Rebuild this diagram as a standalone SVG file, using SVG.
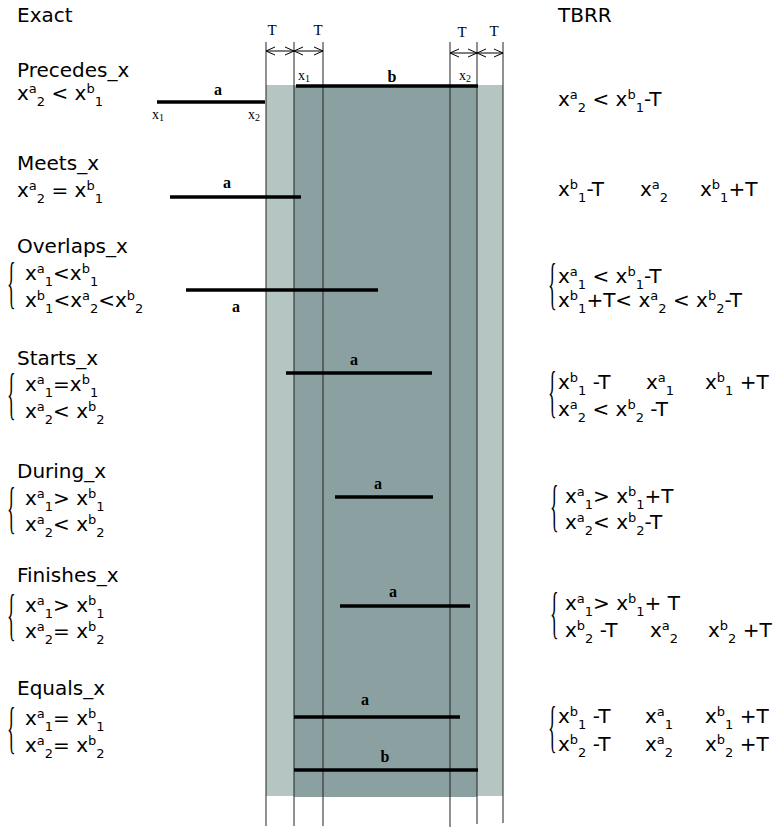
<svg xmlns="http://www.w3.org/2000/svg" width="774" height="828" viewBox="0 0 774 828">
<style>
.t{font-family:"DejaVu Sans",Verdana,sans-serif;font-size:20px;fill:#000}
.s{font-size:13px}
.br{font-family:"Liberation Serif","Times New Roman",serif;font-size:36px;fill:#000}
.lbl{font-family:"Liberation Serif","Times New Roman",serif;font-size:16px;font-weight:bold;text-anchor:middle;fill:#000}
.tl{font-family:"Liberation Serif","Times New Roman",serif;font-size:15px;text-anchor:middle;fill:#000}
.xl{font-family:"Liberation Serif","Times New Roman",serif;font-size:14px;fill:#000}
.xs{font-size:10px}
.bar{stroke:#000;stroke-width:3.5}
.v{stroke:#222;stroke-width:1}
.arr{stroke:#000;stroke-width:1;marker-start:url(#ah);marker-end:url(#ah)}
</style>
<defs>
<marker id="ah" viewBox="0 0 10 10" refX="10" refY="5" markerWidth="10" markerHeight="10" markerUnits="userSpaceOnUse" orient="auto-start-reverse">
<polyline points="1,1 10,5 1,9" fill="none" stroke="#000" stroke-width="1"/>
</marker>
</defs>
<g id="zones">
<rect x="266" y="85" width="237" height="711" fill="#b5c6c2"/>
<rect x="294" y="86" width="183" height="711" fill="#8ba0a0"/>
</g>
<g id="guides">
<line class="v" x1="266" y1="42" x2="266" y2="826"/>
<line class="v" x1="294" y1="42" x2="294" y2="826"/>
<line class="v" x1="323" y1="42" x2="323" y2="826"/>
<line class="v" x1="450" y1="42" x2="450" y2="827"/>
<line class="v" x1="477" y1="42" x2="477" y2="824"/>
<line class="v" x1="503" y1="42" x2="503" y2="823"/>
</g>
<g id="connectors">
<line class="arr" x1="266" y1="51" x2="294" y2="51"/>
<line class="arr" x1="294" y1="51" x2="323" y2="51"/>
<line class="arr" x1="450" y1="53" x2="477" y2="53"/>
<line class="arr" x1="477" y1="53" x2="503" y2="53"/>
</g>
<g id="tolerance-labels">
<text class="tl" x="272" y="35">T</text>
<text class="tl" x="318" y="35">T</text>
<text class="tl" x="462" y="37">T</text>
<text class="tl" x="494" y="36">T</text>
</g>
<g id="interval-b-top">
<line class="bar" x1="296" y1="86" x2="478" y2="86"/>
<text class="lbl" x="392" y="82">b</text>
<text class="xl" x="298" y="80">x<tspan class="xs" dy="2">1</tspan></text>
<text class="xl" x="459" y="80">x<tspan class="xs" dy="2">2</tspan></text>
</g>
<g id="headers">
<text class="t" x="17" y="22">Exact</text>
<text class="t" x="558" y="22">TBRR</text>
</g>
<g id="precedes">
<text class="t" x="17" y="77">Precedes_x</text>
<text class="t" x="17" y="100">x<tspan class="s" dy="-7">a</tspan><tspan class="s" dy="13">2</tspan><tspan dy="-6"> &lt; x</tspan><tspan class="s" dy="-7">b</tspan><tspan class="s" dy="13">1</tspan></text>
<line class="bar" x1="157" y1="102" x2="265" y2="102"/>
<text class="lbl" x="218" y="95">a</text>
<text class="xl" x="152" y="119">x<tspan class="xs" dy="2">1</tspan></text>
<text class="xl" x="248" y="119">x<tspan class="xs" dy="2">2</tspan></text>
<text class="t" x="558" y="106">x<tspan class="s" dy="-7">a</tspan><tspan class="s" dy="13">2</tspan><tspan dy="-6"> &lt; x</tspan><tspan class="s" dy="-7">b</tspan><tspan class="s" dy="13">1</tspan><tspan dy="-6">-T</tspan></text>
</g>
<g id="meets">
<text class="t" x="17" y="170">Meets_x</text>
<text class="t" x="17" y="197">x<tspan class="s" dy="-7">a</tspan><tspan class="s" dy="13">2</tspan><tspan dy="-6"> = x</tspan><tspan class="s" dy="-7">b</tspan><tspan class="s" dy="13">1</tspan></text>
<line class="bar" x1="170" y1="197" x2="301" y2="197"/>
<text class="lbl" x="227" y="188">a</text>
<text class="t" x="558" y="196">x<tspan class="s" dy="-7">b</tspan><tspan class="s" dy="13">1</tspan><tspan dy="-6">-T</tspan></text>
<text class="t" x="640" y="196">x<tspan class="s" dy="-7">a</tspan><tspan class="s" dy="13">2</tspan></text>
<text class="t" x="700" y="196">x<tspan class="s" dy="-7">b</tspan><tspan class="s" dy="13">1</tspan><tspan dy="-6">+T</tspan></text>
</g>
<g id="overlaps">
<text class="t" x="17" y="253">Overlaps_x</text>
<text class="br" transform="translate(7,302) scale(0.5,1.6)">{</text>
<text class="t" x="25" y="280">x<tspan class="s" dy="-7">a</tspan><tspan class="s" dy="13">1</tspan><tspan dy="-6">&lt;x</tspan><tspan class="s" dy="-7">b</tspan><tspan class="s" dy="13">1</tspan></text>
<text class="t" x="25" y="307">x<tspan class="s" dy="-7">b</tspan><tspan class="s" dy="13">1</tspan><tspan dy="-6">&lt;x</tspan><tspan class="s" dy="-7">a</tspan><tspan class="s" dy="13">2</tspan><tspan dy="-6">&lt;x</tspan><tspan class="s" dy="-7">b</tspan><tspan class="s" dy="13">2</tspan></text>
<line class="bar" x1="186" y1="290" x2="378" y2="290"/>
<text class="lbl" x="236" y="312">a</text>
<text class="br" transform="translate(548,303) scale(0.5,1.6)">{</text>
<text class="t" x="558" y="283">x<tspan class="s" dy="-7">a</tspan><tspan class="s" dy="13">1</tspan><tspan dy="-6"> &lt; x</tspan><tspan class="s" dy="-7">b</tspan><tspan class="s" dy="13">1</tspan><tspan dy="-6">-T</tspan></text>
<text class="t" x="558" y="307">x<tspan class="s" dy="-7">b</tspan><tspan class="s" dy="13">1</tspan><tspan dy="-6">+T&lt; x</tspan><tspan class="s" dy="-7">a</tspan><tspan class="s" dy="13">2</tspan><tspan dy="-6"> &lt; x</tspan><tspan class="s" dy="-7">b</tspan><tspan class="s" dy="13">2</tspan><tspan dy="-6">-T</tspan></text>
</g>
<g id="starts">
<text class="t" x="17" y="365">Starts_x</text>
<text class="br" transform="translate(7,413) scale(0.5,1.6)">{</text>
<text class="t" x="25" y="391">x<tspan class="s" dy="-7">a</tspan><tspan class="s" dy="13">1</tspan><tspan dy="-6">=x</tspan><tspan class="s" dy="-7">b</tspan><tspan class="s" dy="13">1</tspan></text>
<text class="t" x="25" y="418">x<tspan class="s" dy="-7">a</tspan><tspan class="s" dy="13">2</tspan><tspan dy="-6">&lt; x</tspan><tspan class="s" dy="-7">b</tspan><tspan class="s" dy="13">2</tspan></text>
<line class="bar" x1="286" y1="373" x2="432" y2="373"/>
<text class="lbl" x="354" y="365">a</text>
<text class="br" transform="translate(548,411) scale(0.5,1.6)">{</text>
<text class="t" x="558" y="389">x<tspan class="s" dy="-7">b</tspan><tspan class="s" dy="13">1</tspan><tspan dy="-6"> -T</tspan></text>
<text class="t" x="646" y="389">x<tspan class="s" dy="-7">a</tspan><tspan class="s" dy="13">1</tspan></text>
<text class="t" x="705" y="389">x<tspan class="s" dy="-7">b</tspan><tspan class="s" dy="13">1</tspan><tspan dy="-6"> +T</tspan></text>
<text class="t" x="558" y="416">x<tspan class="s" dy="-7">a</tspan><tspan class="s" dy="13">2</tspan><tspan dy="-6"> &lt; x</tspan><tspan class="s" dy="-7">b</tspan><tspan class="s" dy="13">2</tspan><tspan dy="-6"> -T</tspan></text>
</g>
<g id="during">
<text class="t" x="17" y="478">During_x</text>
<text class="br" transform="translate(7,527) scale(0.5,1.6)">{</text>
<text class="t" x="25" y="505">x<tspan class="s" dy="-7">a</tspan><tspan class="s" dy="13">1</tspan><tspan dy="-6">&gt; x</tspan><tspan class="s" dy="-7">b</tspan><tspan class="s" dy="13">1</tspan></text>
<text class="t" x="25" y="531">x<tspan class="s" dy="-7">a</tspan><tspan class="s" dy="13">2</tspan><tspan dy="-6">&lt; x</tspan><tspan class="s" dy="-7">b</tspan><tspan class="s" dy="13">2</tspan></text>
<line class="bar" x1="335" y1="497" x2="433" y2="497"/>
<text class="lbl" x="378" y="489">a</text>
<text class="br" transform="translate(550,525) scale(0.5,1.6)">{</text>
<text class="t" x="565" y="503">x<tspan class="s" dy="-7">a</tspan><tspan class="s" dy="13">1</tspan><tspan dy="-6">&gt; x</tspan><tspan class="s" dy="-7">b</tspan><tspan class="s" dy="13">1</tspan><tspan dy="-6">+T</tspan></text>
<text class="t" x="565" y="529">x<tspan class="s" dy="-7">a</tspan><tspan class="s" dy="13">2</tspan><tspan dy="-6">&lt; x</tspan><tspan class="s" dy="-7">b</tspan><tspan class="s" dy="13">2</tspan><tspan dy="-6">-T</tspan></text>
</g>
<g id="finishes">
<text class="t" x="17" y="582">Finishes_x</text>
<text class="br" transform="translate(7,634) scale(0.5,1.6)">{</text>
<text class="t" x="25" y="612">x<tspan class="s" dy="-7">a</tspan><tspan class="s" dy="13">1</tspan><tspan dy="-6">&gt; x</tspan><tspan class="s" dy="-7">b</tspan><tspan class="s" dy="13">1</tspan></text>
<text class="t" x="25" y="638">x<tspan class="s" dy="-7">a</tspan><tspan class="s" dy="13">2</tspan><tspan dy="-6">= x</tspan><tspan class="s" dy="-7">b</tspan><tspan class="s" dy="13">2</tspan></text>
<line class="bar" x1="340" y1="606" x2="470" y2="606"/>
<text class="lbl" x="393" y="597">a</text>
<text class="br" transform="translate(550,632) scale(0.5,1.6)">{</text>
<text class="t" x="565" y="610">x<tspan class="s" dy="-7">a</tspan><tspan class="s" dy="13">1</tspan><tspan dy="-6">&gt; x</tspan><tspan class="s" dy="-7">b</tspan><tspan class="s" dy="13">1</tspan><tspan dy="-6">+ T</tspan></text>
<text class="t" x="565" y="637">x<tspan class="s" dy="-7">b</tspan><tspan class="s" dy="13">2</tspan><tspan dy="-6"> -T</tspan></text>
<text class="t" x="650" y="637">x<tspan class="s" dy="-7">a</tspan><tspan class="s" dy="13">2</tspan></text>
<text class="t" x="708" y="637">x<tspan class="s" dy="-7">b</tspan><tspan class="s" dy="13">2</tspan><tspan dy="-6"> +T</tspan></text>
</g>
<g id="equals">
<text class="t" x="17" y="695">Equals_x</text>
<text class="br" transform="translate(7,747) scale(0.5,1.6)">{</text>
<text class="t" x="25" y="725">x<tspan class="s" dy="-7">a</tspan><tspan class="s" dy="13">1</tspan><tspan dy="-6">= x</tspan><tspan class="s" dy="-7">b</tspan><tspan class="s" dy="13">1</tspan></text>
<text class="t" x="25" y="752">x<tspan class="s" dy="-7">a</tspan><tspan class="s" dy="13">2</tspan><tspan dy="-6">= x</tspan><tspan class="s" dy="-7">b</tspan><tspan class="s" dy="13">2</tspan></text>
<line class="bar" x1="294" y1="717" x2="460" y2="717"/>
<text class="lbl" x="365" y="705">a</text>
<line class="bar" x1="294" y1="770" x2="478" y2="770"/>
<text class="lbl" x="385" y="762">b</text>
<text class="br" transform="translate(548,746) scale(0.5,1.6)">{</text>
<text class="t" x="558" y="723">x<tspan class="s" dy="-7">b</tspan><tspan class="s" dy="13">1</tspan><tspan dy="-6"> -T</tspan></text>
<text class="t" x="645" y="723">x<tspan class="s" dy="-7">a</tspan><tspan class="s" dy="13">1</tspan></text>
<text class="t" x="705" y="723">x<tspan class="s" dy="-7">b</tspan><tspan class="s" dy="13">1</tspan><tspan dy="-6"> +T</tspan></text>
<text class="t" x="558" y="751">x<tspan class="s" dy="-7">b</tspan><tspan class="s" dy="13">2</tspan><tspan dy="-6"> -T</tspan></text>
<text class="t" x="645" y="751">x<tspan class="s" dy="-7">a</tspan><tspan class="s" dy="13">2</tspan></text>
<text class="t" x="705" y="751">x<tspan class="s" dy="-7">b</tspan><tspan class="s" dy="13">2</tspan><tspan dy="-6"> +T</tspan></text>
</g>
</svg>
